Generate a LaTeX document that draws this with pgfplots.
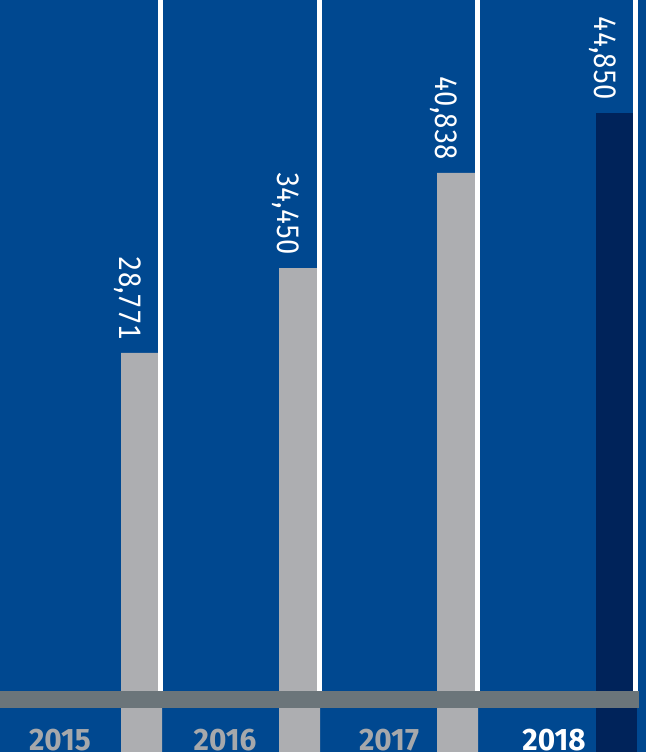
\documentclass[border=0pt]{standalone}
\usepackage{pgfplots}
\pgfplotsset{compat=1.18}
\usepackage{fontspec}
\setmainfont{Fira Sans}
\newfontfamily\valfont{Fira Sans}[Numbers=Monospaced,FakeStretch=0.88]
\newfontfamily\yrfont{Fira Sans}[FakeStretch=0.96]

\definecolor{bgblue}{RGB}{0,72,144}
\definecolor{bargray}{RGB}{173,174,177}
\definecolor{barnavy}{RGB}{0,35,90}
\definecolor{bandgray}{RGB}{107,117,122}
\definecolor{yrgray}{RGB}{166,168,171}

\begin{document}
\begin{tikzpicture}
\fill[bgblue] (0,0) rectangle (646bp,752bp);
\begin{axis}[
    scale only axis,
    width=646bp, height=752bp,
    xmin=0, xmax=646,
    ymin=2037, ymax=52419,
    hide axis,
    clip=false,
    nodes near coords={\pgfmathprintnumber[assume math mode=true,1000 sep={,}]{\pgfplotspointmeta}},
    every node near coord/.append style={xshift=-22bp, yshift=13bp, rotate=-90,
        anchor=base east, inner sep=0pt, text=white,
        font=\valfont\fontsize{31bp}{31bp}\selectfont},
]
% bars (drawn wide; white separators cover their right edge above the band)
\addplot[ybar, bar shift=0, bar width=41, fill=bargray, draw=none]
    coordinates {(141.5,28771) (299.5,34450) (457.5,40838)};
\addplot[ybar, bar shift=0, bar width=41, fill=barnavy, draw=none]
    coordinates {(616.5,44850)};

% white separators
\fill[white] (axis cs:158,6124) rectangle (axis cs:163,52419);
\fill[white] (axis cs:317,6124) rectangle (axis cs:322,52419);
\fill[white] (axis cs:475,6124) rectangle (axis cs:480,52419);
\fill[white] (axis cs:633,6124) rectangle (axis cs:638,52419);

% grey band
\fill[bandgray] (axis cs:0,5005) rectangle (axis cs:639,6124);

% year labels
\begin{scope}[every node/.style={anchor=base, inner sep=0pt,
        font=\yrfont\bfseries\fontsize{31bp}{31bp}\selectfont}]
\node[text=yrgray] at (axis cs:60,2171) {2015};
\node[text=yrgray] at (axis cs:225,2171) {2016};
\node[text=yrgray] at (axis cs:389,2171) {2017};
\node[text=white] at (axis cs:554,2171) {2018};
\end{scope}
\end{axis}
\pgfresetboundingbox
\path (0,0) rectangle (646bp,752bp);
\end{tikzpicture}
\end{document}
